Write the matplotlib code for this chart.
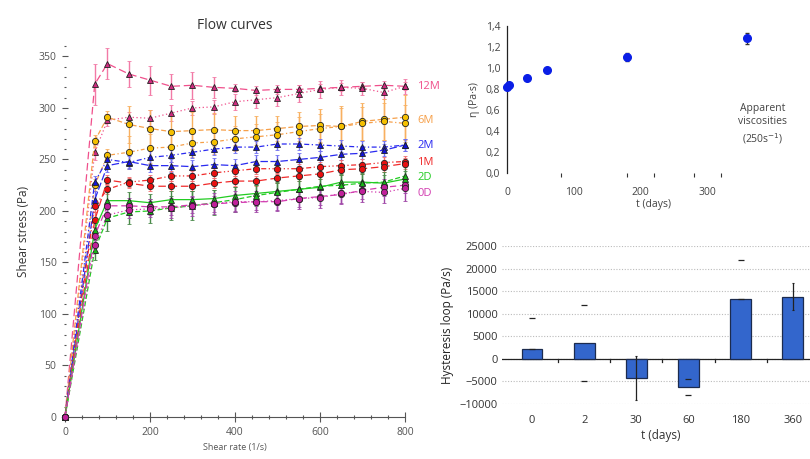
import matplotlib
matplotlib.use("Agg")
import matplotlib.pyplot as plt
from matplotlib.ticker import MultipleLocator, FixedLocator, FuncFormatter

plt.rcParams['font.family'] = ['Open Sans', 'DejaVu Sans']

# ---- flow curves data (shear rate in 1/s, shear stress in Pa) ----
rate = [0, 70, 100, 150, 200, 250, 300, 350, 400, 450, 500, 550, 600, 650, 700, 750, 800]

m12_a = [0, 323, 343, 333, 327, 321, 322, 320, 319, 317, 318, 318, 319, 320, 321, 322, 321]
m12_b = [0, 257, 288, 291, 290, 295, 300, 301, 306, 308, 310, 314, 318, 320, 319, 315, 321]
m6_a = [0, 268, 291, 284, 280, 277, 278, 279, 278, 278, 280, 282, 283, 282, 287, 289, 291]
m6_b = [0, 225, 254, 257, 261, 262, 266, 267, 270, 272, 274, 277, 280, 282, 285, 287, 285]
m2_a = [0, 228, 250, 247, 252, 254, 257, 260, 262, 262, 265, 265, 264, 263, 262, 262, 264]
m2_b = [0, 211, 244, 248, 244, 244, 243, 245, 244, 248, 248, 250, 252, 255, 256, 259, 264]
m1_a = [0, 205, 221, 228, 230, 234, 234, 237, 239, 241, 241, 241, 243, 244, 245, 247, 248]
m1_b = [0, 191, 230, 227, 224, 224, 224, 227, 229, 229, 232, 234, 236, 240, 241, 243, 246]
d2_a = [0, 182, 210, 210, 208, 211, 211, 212, 215, 217, 219, 221, 223, 228, 228, 227, 231]
d2_b = [0, 162, 193, 199, 200, 203, 205, 208, 211, 215, 218, 221, 224, 225, 227, 228, 234]
d0_a = [0, 176, 205, 205, 204, 204, 206, 207, 208, 209, 209, 212, 214, 216, 220, 223, 225]
d0_b = [0, 167, 196, 201, 202, 203, 205, 207, 209, 209, 210, 212, 213, 217, 219, 218, 222]

m12_err_a = [0, 20, 15, 13, 14, 12, 13, 10, 4, 4, 4, 4, 4, 4, 4, 4, 4]
m12_err_b = [0, 8, 6, 5, 8, 8, 7, 7, 8, 8, 8, 8, 8, 7, 6, 6, 7]
m6_err_a = [0, 6, 6, 18, 18, 16, 18, 16, 14, 14, 12, 14, 16, 20, 18, 20, 22]
m6_err_b = [0, 6, 6, 16, 14, 14, 14, 12, 12, 12, 12, 14, 14, 18, 16, 18, 18]
m2_err_a = [0, 6, 6, 6, 6, 6, 6, 6, 6, 6, 6, 6, 6, 6, 6, 6, 6]
m2_err_b = [0, 8, 6, 6, 6, 6, 6, 6, 6, 6, 6, 6, 6, 6, 6, 6, 6]
m1_err_a = [0, 6, 5, 5, 5, 5, 5, 5, 5, 5, 5, 5, 5, 5, 5, 5, 5]
m1_err_b = [0, 8, 5, 5, 5, 5, 5, 5, 5, 5, 5, 5, 5, 5, 5, 5, 5]
d2_err_a = [0, 10, 8, 8, 8, 8, 8, 8, 8, 8, 8, 8, 8, 8, 8, 8, 8]
d2_err_b = [0, 10, 12, 12, 12, 12, 14, 12, 12, 10, 10, 10, 10, 10, 10, 10, 10]
d0_err_a = [0, 8, 6, 8, 8, 8, 8, 8, 8, 8, 8, 8, 8, 8, 8, 8, 8]
d0_err_b = [0, 8, 6, 8, 8, 10, 10, 10, 10, 10, 10, 10, 10, 10, 10, 10, 12]

# ---- apparent viscosity data ----
days = [0, 2, 30, 60, 180, 360]
eta = [0.82, 0.84, 0.90, 0.98, 1.10, 1.28]
eta_err = [0.01, 0.01, 0.01, 0.01, 0.04, 0.05]

# ---- hysteresis loop data ----
hyst_labels = ['0', '2', '30', '60', '180', '360']
hyst = [2100, 3600, -4200, -6300, 13300, 13800]
hyst_err_low = [0, 8400, 4800, 1800, 0, 3000]
hyst_err_high = [6900, 8400, 4800, 1800, 8700, 3000]

samples = [
    # label, line colour, marker colour, error colour, marker, up, up err, down, down err, label shift (pt)
    ('12M', '#f0508c', '#d02a80', '#f27aa6', '^', m12_a, m12_err_a, m12_b, m12_err_b, 0),
    ('6M', '#f6a04a', '#f5c000', '#f8b060', 'o', m6_a, m6_err_a, m6_b, m6_err_b, 0),
    ('2M', '#2a2af0', '#1414d8', '#7070f0', '^', m2_a, m2_err_a, m2_b, m2_err_b, 0),
    ('1M', '#f02a2a', '#e81010', '#f07070', 'o', m1_a, m1_err_a, m1_b, m1_err_b, 0),
    ('2D', '#22cc22', '#18b818', '#4a8a4a', '^', d2_a, d2_err_a, d2_b, d2_err_b, 0),
    ('0D', '#d23cb0', '#c0209a', '#a048a8', 'o', d0_a, d0_err_a, d0_b, d0_err_b, -4.5),
]
styles = [
    ((0, (6, 3)), (0, (1, 2))),
    ((0, (4, 2)), (0, (3, 2, 1, 2))),
    ((0, (4, 2, 1, 2)), (0, (6, 2))),
    ((0, (4, 2, 1, 2, 1, 2)), (0, (6, 3))),
    ('-', (0, (4, 2))),
    ((0, (5, 3)), (0, (1, 2))),
]

grey = '#555555'
fig = plt.figure(figsize=(8.1, 4.59), dpi=100)

# ---------------- flow curves ----------------
ax = fig.add_axes([0.0802, 0.0915, 0.4198, 0.808])
for (name, lc, mc, ec, mk, ya, ea, yb, eb, dy), (sa, sb) in zip(samples, styles):
    for y, e, ls in ((ya, ea, sa), (yb, eb, sb)):
        ax.errorbar(rate, y, yerr=e, color=lc, ls=ls, lw=0.9, ecolor=ec,
                    elinewidth=1.0, capsize=1.5, marker=mk, ms=4.5,
                    mfc=mc, mec='#222222', mew=0.6, clip_on=False, zorder=3)
    last = (ya[-1] + yb[-1]) / 2
    ax.annotate(name, xy=(800, last), xytext=(9, dy), textcoords='offset points',
                color=lc, fontsize=8, va='center', ha='left', annotation_clip=False)

ax.set_xlim(0, 800)
ax.set_ylim(0, 360)
ax.spines[['top', 'right', 'left']].set_visible(False)
ax.spines['bottom'].set_color(grey)
ax.spines['bottom'].set_linewidth(0.8)
ax.xaxis.set_major_locator(MultipleLocator(200))
ax.xaxis.set_minor_locator(MultipleLocator(40))
ax.yaxis.set_major_locator(FixedLocator([0, 50, 100, 150, 200, 250, 300, 350]))
ax.yaxis.set_minor_locator(MultipleLocator(10))
ax.tick_params(axis='x', which='major', direction='inout', length=7, width=0.8, colors=grey, labelsize=7.5)
ax.tick_params(axis='x', which='minor', direction='inout', length=3, width=0.8, colors=grey)
ax.tick_params(axis='y', which='major', direction='inout', length=5, width=0.8, colors=grey, labelsize=7.5)
ax.tick_params(axis='y', which='minor', direction='inout', length=2, width=0.8, colors=grey)
ax.set_xlabel('Shear rate (1/s)', fontsize=6.5, color=grey, labelpad=4)
ax.set_ylabel('Shear stress (Pa)', fontsize=8.5, color='#333333', labelpad=6)
ax.set_title('Flow curves', fontsize=10, color='#333333', pad=12)

# ---------------- apparent viscosity ----------------
comma = FuncFormatter(lambda v, p: f'{v:.1f}'.replace('.', ','))
ax2 = fig.add_axes([0.6263, 0.6237, 0.362, 0.3203])
ax2.errorbar(days, eta, yerr=eta_err, fmt='o', ms=5.5, color='#0a1ee6',
             mec='#0a1ee6', ecolor='#333333', elinewidth=0.8, capsize=1.5,
             clip_on=False, zorder=3)
ax2.set_xlim(0, 440)
ax2.set_ylim(0, 1.4)
ax2.spines[['top', 'right', 'bottom']].set_visible(False)
ax2.spines['left'].set_color('#222222')
ax2.spines['left'].set_linewidth(0.9)
ax2.yaxis.set_major_locator(MultipleLocator(0.2))
ax2.yaxis.set_major_formatter(comma)
ax2.set_xticks([0, 100, 200, 300])
ax2.xaxis.set_minor_locator(FixedLocator([80, 100, 180, 200, 220, 280, 300, 320]))
ax2.tick_params(axis='x', which='major', length=0, pad=10, labelsize=7.5, colors='#444444')
ax2.tick_params(axis='x', which='minor', direction='out', length=3, width=0.8, colors='#333333')
ax2.tick_params(axis='y', length=0, pad=5, labelsize=7.5, colors='#444444')
ax2.set_xlabel('t (days)', fontsize=7.5, color='#444444', labelpad=1)
ax2.set_ylabel('η (Pa·s)', fontsize=7.5, color='#444444', labelpad=4)
ax2.text(0.87, 0.33, 'Apparent\nviscosities\n(250s$^{-1}$)', transform=ax2.transAxes,
         ha='center', va='center', fontsize=7.5, color='#444444', linespacing=1.3)

# ---------------- hysteresis loop ----------------
ax3 = fig.add_axes([0.6195, 0.1198, 0.3914, 0.3437])
pos = list(range(len(hyst_labels)))
ax3.bar(pos, hyst, width=0.4, color='#3366cc', edgecolor='#1c2b4e', linewidth=0.9, zorder=3)
# only the caps show for most bars, the whiskers are drawn for 30 and 360 days
thin = [0, 1, 3, 4]
full = [2, 5]
ax3.errorbar([pos[i] for i in thin], [hyst[i] for i in thin],
             yerr=[[hyst_err_low[i] for i in thin], [hyst_err_high[i] for i in thin]],
             fmt='none', elinewidth=0, ecolor='#222222', capsize=2, capthick=0.9, zorder=4)
ax3.errorbar([pos[i] for i in full], [hyst[i] for i in full],
             yerr=[[hyst_err_low[i] for i in full], [hyst_err_high[i] for i in full]],
             fmt='none', elinewidth=0.9, ecolor='#222222', capsize=1, capthick=0.8, zorder=4)
ax3.axhline(0, color='#222222', lw=0.9, zorder=2)
for b in [p + 0.5 for p in pos[:-1]]:
    ax3.plot([b, b], [0, -700], color='#222222', lw=0.9, zorder=2)
ax3.set_xlim(-0.58, 5.5)
ax3.set_ylim(-10000, 25000)
ax3.yaxis.set_major_locator(MultipleLocator(5000))
ax3.grid(axis='y', color='#bbbbbb', ls=(0, (1, 1.5)), lw=0.8, zorder=0)
ax3.spines[['top', 'right', 'bottom', 'left']].set_visible(False)
ax3.set_xticks(pos)
ax3.set_xticklabels(hyst_labels)
ax3.tick_params(axis='x', length=0, pad=8, labelsize=8, colors='#333333')
ax3.tick_params(axis='y', length=0, pad=3, labelsize=8, colors='#333333')
ax3.set_xlabel('t (days)', fontsize=8.5, color='#333333', labelpad=2)
ax3.set_ylabel('Hysteresis loop (Pa/s)', fontsize=8.5, color='#222222', labelpad=4)

fig.savefig('out.png', dpi=100)
